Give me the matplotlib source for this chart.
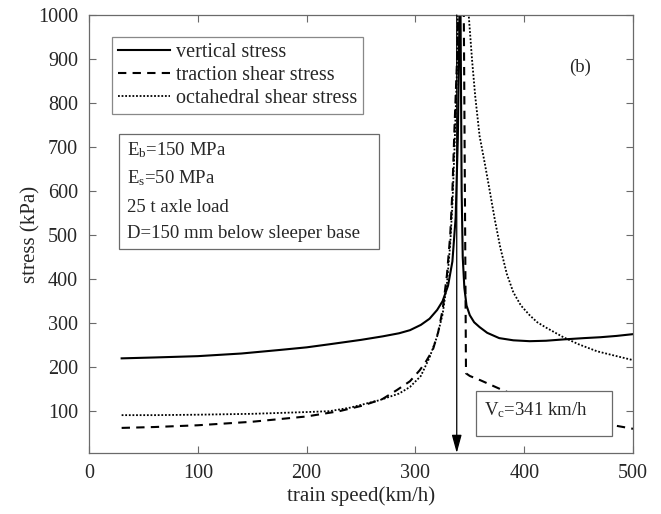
import matplotlib
matplotlib.use("Agg")
import matplotlib.pyplot as plt
from matplotlib.patches import Rectangle

plt.rcParams['font.family'] = ['Liberation Serif', 'DejaVu Serif']
plt.rcParams['mathtext.fontset'] = 'custom'
plt.rcParams['mathtext.rm'] = 'Liberation Serif'
plt.rcParams['mathtext.it'] = 'Liberation Serif:italic'

# ---- data ----
speed_vert = [30, 60, 100, 140, 175, 200, 221, 250, 270, 285, 295, 305, 313, 320, 325, 330, 334, 337, 339, 340.5,
              341.5, 342.5, 343.5, 345, 347, 350, 354, 359, 366, 377, 390, 405, 420, 436, 455, 470, 485, 500]
vertical = [220, 222, 225, 231, 239, 245, 252, 262, 270, 277, 284, 296, 310, 330, 350, 385, 440, 540, 720, 1000,
            1000, 600, 450, 380, 340, 318, 302, 291, 278, 266, 261, 259, 260, 263, 266, 268, 271, 275]

speed_trac = [30, 60, 100, 150, 200, 230, 252, 270, 283, 295, 304, 310, 316, 321, 325, 329, 332, 334, 336, 338, 339.5,
              344.5, 345.5, 346.5, 350, 360, 380, 400, 420, 440, 460, 482, 500]
traction = [62, 64, 68, 76, 88, 100, 113, 128, 148, 168, 193, 214, 239, 280, 330, 410, 500, 600, 750, 880, 1000,
            1000, 600, 186, 180, 170, 148, 128, 110, 95, 82, 68, 60]

speed_oct = [30, 60, 100, 150, 200, 221, 240, 267, 285, 295, 305, 313, 320, 325, 329, 332, 334, 336, 338, 339,
             349, 352, 355, 359, 364, 368, 373, 378, 384, 390, 397, 405, 412, 420, 436, 450, 467, 485, 500]
octahedral = [91, 91, 92, 94, 98, 100, 108, 125, 140, 155, 180, 222, 270, 320, 390, 480, 570, 700, 860, 1000,
              1000, 900, 815, 725, 660, 605, 535, 472, 412, 370, 340, 318, 302, 290, 268, 252, 236, 225, 216]

critical_speed = 338
critical_label = r"V$_\mathrm{c}$=341 km/h"
params = [r"E$_\mathrm{b}$=150 MPa", r"E$_\mathrm{s}$=50 MPa", "25 t axle load", "D=150 mm below sleeper base"]
x_ticks = [0, 100, 200, 300, 400, 500]
y_ticks = [100, 200, 300, 400, 500, 600, 700, 800, 900, 1000]

W, H = 661, 514
fig = plt.figure(figsize=(W / 100, H / 100), dpi=100)
L, R, T, B = 89, 633, 15, 453
ax = fig.add_axes([L / W, 1 - B / H, (R - L) / W, (B - T) / H])

spine_c = '#6a6a6a'
text_c = '#262626'

ax.plot(speed_vert, vertical, color='black', lw=1.5, ls='-', label='vertical stress', solid_joinstyle='round')
ax.plot(speed_trac, traction, color='black', lw=1.5, ls=(0, (4, 3)), label='traction shear stress')
ax.plot(speed_oct, octahedral, color='black', lw=1.3, ls=(0, (1, 1)), label='octahedral shear stress')

ax.set_xlim(0, 500)
ax.set_ylim(5, 1000)
ax.set_xticks(x_ticks)
ax.set_yticks(y_ticks)
ax.tick_params(direction='in', length=5, width=0.8, color=spine_c, labelcolor=text_c,
               labelsize=14.5, top=True, right=True, pad=8)
for s in ax.spines.values():
    s.set_color(spine_c)
    s.set_linewidth(0.9)
ax.set_xlabel('train speed(km/h)', fontsize=15, color=text_c, labelpad=2)
ax.set_ylabel('stress (kPa)', fontsize=15, color=text_c, labelpad=-2)

# critical speed arrow
ax.annotate('', xy=(critical_speed, 5), xytext=(critical_speed, 1000),
            arrowprops=dict(arrowstyle='-|>,head_length=1.1,head_width=0.3', color='black', lw=0.9,
                            shrinkA=0, shrinkB=0))

# legend
leg = ax.legend(loc='upper left', bbox_to_anchor=((111.7 - L) / (R - L), (B - 36.7) / (B - T)),
                borderaxespad=0, fontsize=14.5, frameon=True, fancybox=False, edgecolor=spine_c,
                handlelength=2.6, handletextpad=0.3, labelspacing=0.2, borderpad=0.3)
leg.get_frame().set_linewidth(0.9)
for t in leg.get_texts():
    t.set_color(text_c)

def px2ax(x, y):
    return (x - L) / (R - L), (B - y) / (B - T)

# parameter box
x0, y0 = px2ax(119, 249)
x1, y1 = px2ax(379, 134)
ax.add_patch(Rectangle((x0, y0), x1 - x0, y1 - y0, transform=ax.transAxes, facecolor='white',
                       edgecolor=spine_c, lw=0.9, zorder=5))
for txt, yy in zip(params, [150, 178, 207, 234]):
    tx, ty = px2ax(127, yy)
    ax.text(tx, ty, txt, transform=ax.transAxes, fontsize=13.5, color=text_c, va='center', ha='left', zorder=6)

# critical speed box
x0, y0 = px2ax(476, 436)
x1, y1 = px2ax(612, 391)
ax.add_patch(Rectangle((x0, y0), x1 - x0, y1 - y0, transform=ax.transAxes, facecolor='white',
                       edgecolor=spine_c, lw=0.9, zorder=5))
tx, ty = px2ax(484, 410)
ax.text(tx, ty, critical_label, transform=ax.transAxes, fontsize=13.5, color=text_c, va='center', ha='left', zorder=6)

# panel label
tx, ty = px2ax(580, 67)
ax.text(tx, ty, '(b)', transform=ax.transAxes, fontsize=13.5, color=text_c, va='center', ha='center')

fig.savefig('out.png', dpi=100)
